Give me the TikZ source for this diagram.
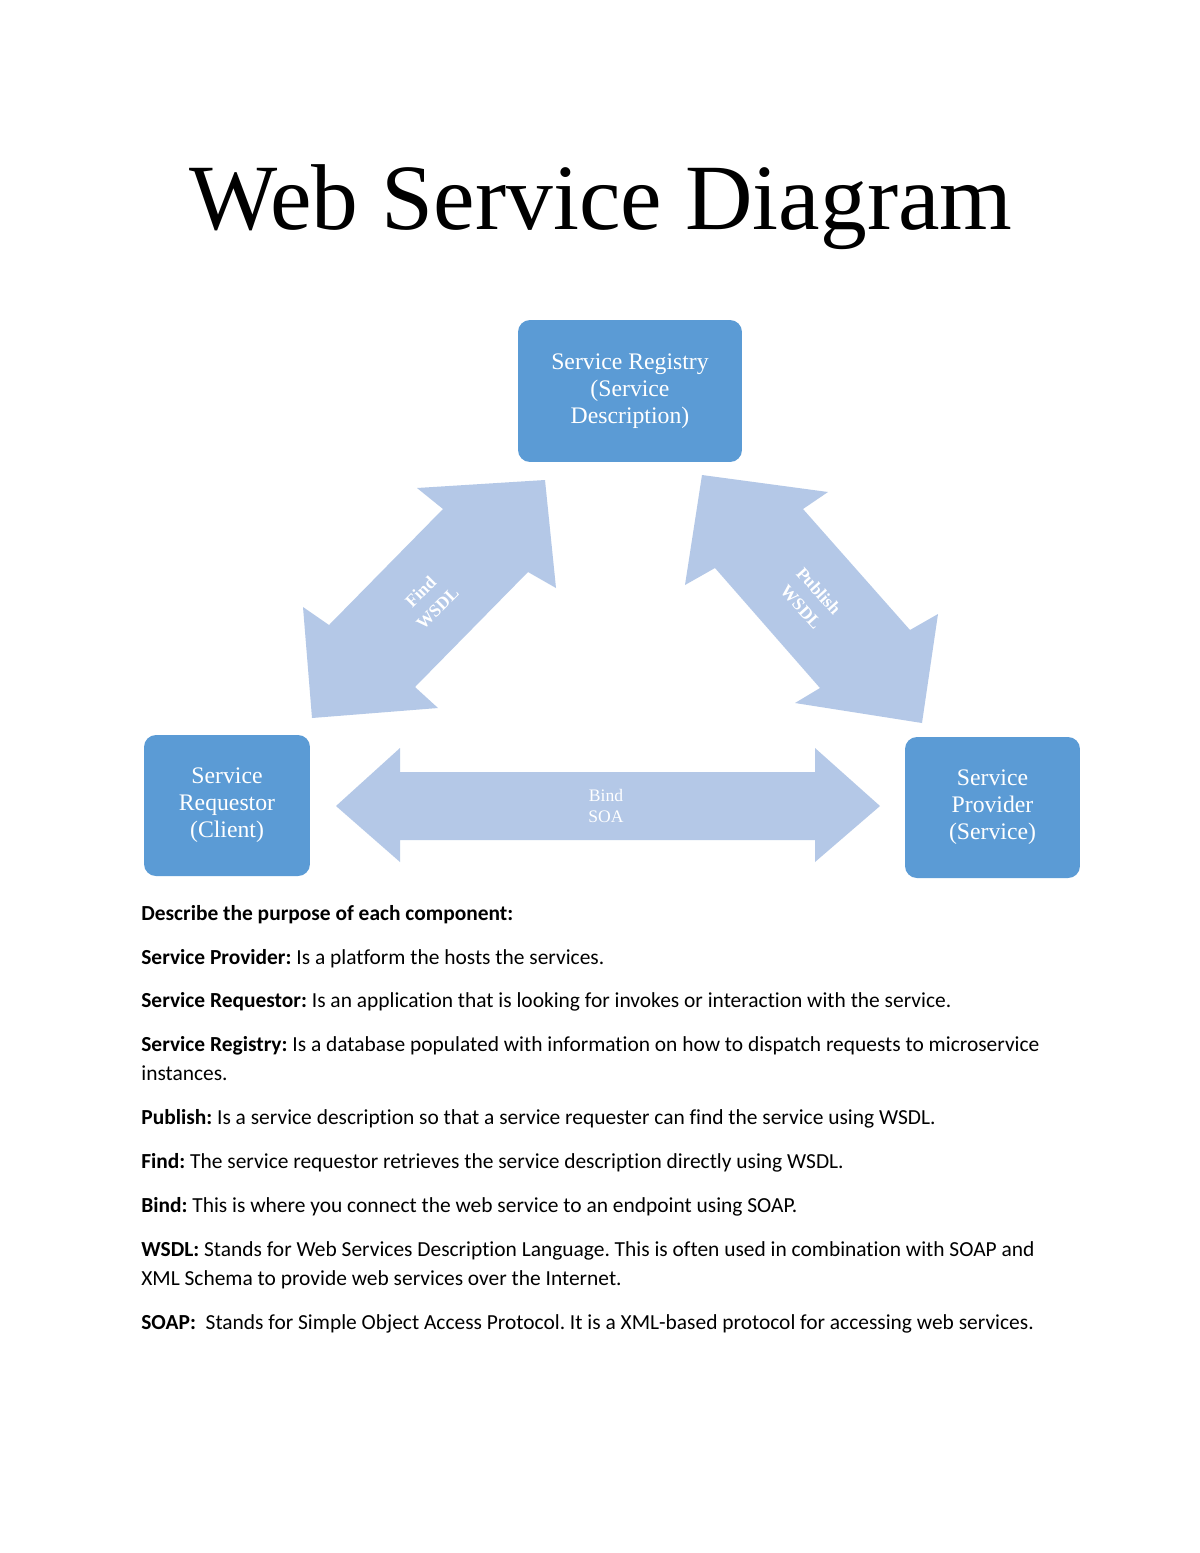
\documentclass[tikz,border=0pt]{standalone}
\usepackage{fontspec}
\setmainfont{Liberation Serif}
\newfontfamily\bodyfont[Ligatures={NoCommon,NoRare}]{Carlito}
\definecolor{boxblue}{RGB}{91,155,213}
\definecolor{arrowblue}{RGB}{180,200,231}
\tikzset{
  compbox/.style={draw=none, fill=boxblue, rounded corners=6.8pt, text=white, align=center,
    font=\fontsize{13.5}{15.4}\selectfont, inner sep=0pt},
  bigarrow/.style={fill=arrowblue, draw=none},
  arrowlabel/.style={text=white, align=center, font=\fontsize{10}{12}\selectfont, inner sep=0pt},
  bodyline/.style={anchor=base west, inner sep=0pt, font=\bodyfont\fontsize{12.2}{14}\selectfont},
}
\frenchspacing
\begin{document}
\frenchspacing
\begin{tikzpicture}[x=0.02cm,y=-0.02cm]
\useasboundingbox (0,0) rectangle (1200,1553);
\fill[white] (0,0) rectangle (1200,1553);

% Title
\node[anchor=base, inner sep=0pt, font=\fontsize{53.2}{58}\selectfont] (title) at (601,229) {Web Service Diagram};

% Arrows
\fill[bigarrow] (417,488) -- (545,480) -- (556,588) -- (528,572) -- (415,687) -- (438,708)
  -- (312,718) -- (303,607) -- (329,625) -- (443,509) -- cycle;
\fill[bigarrow] (702,475) -- (828,492) -- (803,509) -- (910,630) -- (938,614) -- (922,723)
  -- (795,703) -- (820,688) -- (715,568) -- (685,585) -- cycle;
\fill[bigarrow] (336,806) -- (400,748) -- (400,772) -- (815,772) -- (815,748) -- (880,806)
  -- (815,862) -- (815,840) -- (400,840) -- (400,862) -- cycle;

\node[arrowlabel, rotate=45, font=\bfseries\fontsize{10}{13.5}\selectfont] (findlbl) at (429,600) {Find\\WSDL};
\node[arrowlabel, rotate=-48, font=\bfseries\fontsize{10}{13.5}\selectfont] (publbl) at (810,599) {Publish\\WSDL};
\node[arrowlabel] (bindlbl) at (606,806) {Bind\\SOA};

% Boxes
\node[compbox, minimum width=4.48cm, minimum height=2.84cm] (registry) at (630,391)
  {Service Registry\\(Service\\Description)};
\node[compbox, minimum width=3.32cm, minimum height=2.82cm] (requestor) at (227,805.5)
  {Service\\Requestor\\(Client)};
\node[compbox, minimum width=3.5cm, minimum height=2.82cm] (provider) at (992.5,807.5)
  {Service\\Provider\\(Service)};

% Body text
\node[bodyline] (l1) at (141,920) {\textbf{Describe the purpose of each component:}};
\node[bodyline] (l2) at (141,964) {\textbf{Service Provider:} Is a platform the hosts the services.};
\node[bodyline] (l3) at (141,1007) {\textbf{Service Requestor:} Is an application that is looking for invokes or interaction with the service.};
\node[bodyline] (l4) at (141,1051) {\textbf{Service Registry:} Is a database populated with information on how to dispatch requests to microservice};
\node[bodyline] (l5) at (141,1080) {instances.};
\node[bodyline] (l6) at (141,1124) {\textbf{Publish:} Is a service description so that a service requester can find the service using WSDL.};
\node[bodyline] (l7) at (141,1168) {\textbf{Find:} The service requestor retrieves the service description directly using WSDL.};
\node[bodyline] (l8) at (141,1212) {\textbf{Bind:} This is where you connect the web service to an endpoint using SOAP.};
\node[bodyline] (l9) at (141,1256) {\textbf{WSDL:} Stands for Web Services Description Language. This is often used in combination with SOAP and};
\node[bodyline] (l10) at (141,1285) {XML Schema to provide web services over the Internet.};
\node[bodyline] (l11) at (141,1329) {\textbf{SOAP:}\ \ Stands for Simple Object Access Protocol. It is a XML-based protocol for accessing web services.};
\end{tikzpicture}
\end{document}
